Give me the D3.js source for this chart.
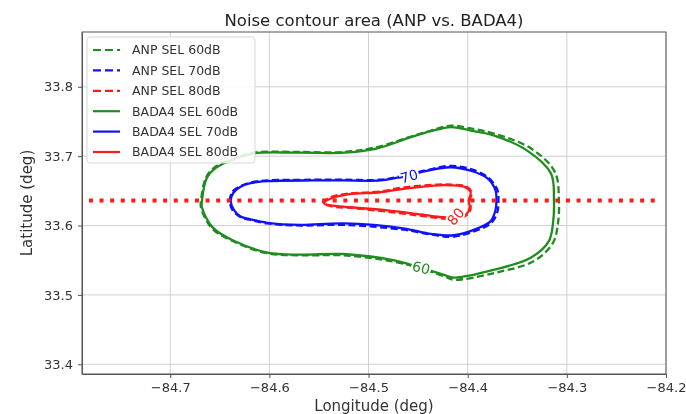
<!DOCTYPE html>
<html>
<head>
<meta charset="utf-8">
<script src="https://cdn.jsdelivr.net/npm/d3@7"></script>
<style>
  html, body { margin: 0; padding: 0; background: #fff; }
  svg { display: block; font-family: "DejaVu Sans", sans-serif; filter: blur(0.35px); }
  .grid line { stroke: #d0d0d0; stroke-width: 1; }
  .axis path, .axis line { stroke: #555; }
</style>
</head>
<body>
<svg id="vis" width="686" height="414"></svg>
<script>
// axis ticks
var xTicks = [-84.7, -84.6, -84.5, -84.4, -84.3, -84.2];
var yTicks = [33.4, 33.5, 33.6, 33.7, 33.8];

// legend entries
var legendLabels = ["ANP SEL 60dB", "ANP SEL 70dB", "ANP SEL 80dB",
                    "BADA4 SEL 60dB", "BADA4 SEL 70dB", "BADA4 SEL 80dB"];

// flight track (lon, lat)
var trackLon = [-84.782, -84.209];
var trackLat = [33.636, 33.636];

// contours, [lon, lat]
var anp60 = [[-84.669,33.636],[-84.664,33.669],[-84.656,33.683],[-84.642,33.693],[-84.616,33.705],
  [-84.569,33.706],[-84.525,33.706],[-84.492,33.713],[-84.458,33.728],[-84.437,33.737],[-84.417,33.744],
  [-84.397,33.740],[-84.372,33.732],[-84.336,33.711],[-84.312,33.677],[-84.308,33.636],[-84.309,33.603],
  [-84.314,33.575],[-84.333,33.549],[-84.372,33.532],[-84.414,33.522],[-84.424,33.527],[-84.447,33.538],
  [-84.475,33.548],[-84.525,33.557],[-84.569,33.557],[-84.602,33.560],[-84.636,33.577],[-84.658,33.596],
  [-84.669,33.626]];
var anp70 = [[-84.640,33.636],[-84.637,33.649],[-84.629,33.657],[-84.619,33.662],[-84.602,33.665],
  [-84.556,33.666],[-84.525,33.666],[-84.488,33.666],[-84.471,33.670],[-84.444,33.679],[-84.417,33.686],
  [-84.396,33.681],[-84.379,33.669],[-84.370,33.651],[-84.369,33.636],[-84.370,33.620],[-84.376,33.604],
  [-84.389,33.594],[-84.414,33.584],[-84.437,33.587],[-84.465,33.594],[-84.525,33.601],[-84.569,33.600],
  [-84.602,33.603],[-84.619,33.608],[-84.629,33.612],[-84.637,33.622]];
var anp80 = [[-84.546,33.633],[-84.538,33.641],[-84.521,33.646],[-84.488,33.649],[-84.465,33.655],
  [-84.430,33.659],[-84.416,33.659],[-84.401,33.656],[-84.396,33.648],[-84.398,33.636],[-84.397,33.625],
  [-84.400,33.616],[-84.411,33.610],[-84.424,33.610],[-84.447,33.614],[-84.481,33.620],[-84.515,33.625],
  [-84.538,33.628]];
var bada60 = [[-84.668,33.636],[-84.663,33.669],[-84.655,33.682],[-84.642,33.692],[-84.616,33.704],
  [-84.569,33.705],[-84.525,33.705],[-84.492,33.711],[-84.458,33.727],[-84.437,33.736],[-84.417,33.742],
  [-84.397,33.737],[-84.374,33.730],[-84.340,33.708],[-84.316,33.675],[-84.313,33.636],[-84.314,33.603],
  [-84.318,33.578],[-84.336,33.554],[-84.374,33.536],[-84.414,33.525],[-84.424,33.529],[-84.447,33.539],
  [-84.475,33.550],[-84.525,33.559],[-84.569,33.558],[-84.602,33.561],[-84.636,33.578],[-84.657,33.597],
  [-84.668,33.626]];
var bada70 = [[-84.639,33.636],[-84.636,33.648],[-84.629,33.656],[-84.619,33.661],[-84.602,33.664],
  [-84.556,33.665],[-84.525,33.665],[-84.488,33.665],[-84.471,33.669],[-84.458,33.672],[-84.444,33.678],
  [-84.417,33.684],[-84.397,33.679],[-84.380,33.668],[-84.372,33.651],[-84.371,33.636],[-84.372,33.622],
  [-84.377,33.606],[-84.390,33.596],[-84.414,33.586],[-84.437,33.588],[-84.465,33.596],[-84.525,33.603],
  [-84.569,33.601],[-84.602,33.604],[-84.619,33.609],[-84.629,33.613],[-84.636,33.623]];
var bada80 = [[-84.545,33.632],[-84.538,33.639],[-84.521,33.645],[-84.488,33.648],[-84.465,33.653],
  [-84.430,33.658],[-84.417,33.658],[-84.402,33.655],[-84.397,33.648],[-84.399,33.636],[-84.398,33.626],
  [-84.401,33.617],[-84.411,33.612],[-84.424,33.612],[-84.447,33.616],[-84.481,33.622],[-84.515,33.626],
  [-84.538,33.629]];

// contour labels: text, lon, lat, angle
var labelText = ["60", "70", "80"];
var labelLon = [-84.447, -84.459, -84.412];
var labelLat = [33.539, 33.671, 33.613];
var labelAngle = [14, -16, -50];

const GREEN = "#1e8c1e", BLUE = "#1010ff", RED = "#ff1a1a";
const MARGINS = {top: 32, bottom: 40, left: 82, right: 20};
var width = 686, height = 414;

var svg = d3.select("#vis");

var x = d3.scaleLinear().domain([-84.789, -84.2]).range([MARGINS.left, width - MARGINS.right]);
var y = d3.scaleLinear().domain([33.386, 33.879]).range([height - MARGINS.bottom, MARGINS.top]);

// grid
svg.append("g").attr("class", "grid")
  .selectAll("line.gx").data(xTicks).enter().append("line")
  .attr("x1", d => x(d)).attr("x2", d => x(d))
  .attr("y1", MARGINS.top).attr("y2", height - MARGINS.bottom);
svg.select("g.grid")
  .selectAll("line.gy").data(yTicks).enter().append("line")
  .attr("y1", d => y(d)).attr("y2", d => y(d))
  .attr("x1", MARGINS.left).attr("x2", width - MARGINS.right);

var line = d3.line().x(d => x(d[0])).y(d => y(d[1])).curve(d3.curveCatmullRomClosed.alpha(0.5));

var contours = [
  {pts: anp60, color: GREEN, dash: "7,3.5"},
  {pts: anp70, color: BLUE, dash: "7,3.5"},
  {pts: anp80, color: RED, dash: "7,3.5"},
  {pts: bada60, color: GREEN, dash: null},
  {pts: bada70, color: BLUE, dash: null},
  {pts: bada80, color: RED, dash: null}
];

var plot = svg.append("g");
plot.selectAll("path.contour").data(contours).enter().append("path")
  .attr("class", "contour")
  .attr("d", d => line(d.pts))
  .attr("fill", "none")
  .attr("stroke", d => d.color)
  .attr("stroke-width", 2.3)
  .attr("stroke-dasharray", d => d.dash);

// flight track
plot.append("line")
  .attr("x1", x(trackLon[0])).attr("x2", x(trackLon[1]))
  .attr("y1", y(trackLat[0])).attr("y2", y(trackLat[1]))
  .attr("stroke", RED).attr("stroke-width", 4)
  .attr("stroke-dasharray", "4,6.6");

// contour labels (inline, white halo to break lines)
var labelColors = [GREEN, BLUE, RED];
plot.selectAll("text.clabel").data(labelText).enter().append("text")
  .attr("class", "clabel")
  .attr("transform", (d, i) => `translate(${x(labelLon[i])},${y(labelLat[i])}) rotate(${labelAngle[i]})`)
  .attr("text-anchor", "middle").attr("dy", "0.35em")
  .attr("font-size", 14)
  .attr("fill", (d, i) => labelColors[i])
  .attr("stroke", "#fff").attr("stroke-width", 4).attr("paint-order", "stroke")
  .text(d => d);

// axes
var xAxis = svg.append("g").attr("class", "axis")
  .attr("transform", `translate(0,${height - MARGINS.bottom})`)
  .call(d3.axisBottom(x).tickValues(xTicks).tickSize(4).tickPadding(5)
    .tickFormat(d => d3.format(".1f")(d).replace("-", "\u2212")).tickSizeOuter(0));
var yAxis = svg.append("g").attr("class", "axis")
  .attr("transform", `translate(${MARGINS.left},0)`)
  .call(d3.axisLeft(y).tickValues(yTicks).tickSize(4).tickPadding(5)
    .tickFormat(d3.format(".1f")).tickSizeOuter(0));
[xAxis, yAxis].forEach(function (a) {
  a.attr("font-size", 13).attr("font-family", "DejaVu Sans, sans-serif");
  a.selectAll("text").attr("fill", "#333");
});

// frame
svg.append("rect")
  .attr("x", MARGINS.left).attr("y", MARGINS.top)
  .attr("width", width - MARGINS.left - MARGINS.right)
  .attr("height", height - MARGINS.top - MARGINS.bottom)
  .attr("fill", "none").attr("stroke", "#555").attr("stroke-width", 1);

// titles
svg.append("text").attr("x", (MARGINS.left + width - MARGINS.right) / 2).attr("y", 26)
  .attr("text-anchor", "middle").attr("font-size", 16.5).attr("fill", "#222")
  .text("Noise contour area (ANP vs. BADA4)");
svg.append("text").attr("x", (MARGINS.left + width - MARGINS.right) / 2).attr("y", 411)
  .attr("text-anchor", "middle").attr("font-size", 15).attr("fill", "#333")
  .text("Longitude (deg)");
svg.append("text")
  .attr("transform", `translate(32,${(MARGINS.top + height - MARGINS.bottom) / 2}) rotate(-90)`)
  .attr("text-anchor", "middle").attr("font-size", 15).attr("fill", "#333")
  .text("Latitude (deg)");

// legend
var legend = svg.append("g").attr("transform", `translate(${MARGINS.left + 5},${MARGINS.top + 5})`);
legend.append("rect").attr("width", 168).attr("height", 126).attr("rx", 3)
  .attr("fill", "rgba(255,255,255,0.85)").attr("stroke", "#d8d8d8");
var legendColors = [GREEN, BLUE, RED, GREEN, BLUE, RED];
var item = legend.selectAll("g.item").data(legendLabels).enter().append("g")
  .attr("class", "item")
  .attr("transform", (d, i) => `translate(0,${13 + i * 20.4})`);
item.append("line").attr("x1", 6).attr("x2", 33)
  .attr("stroke", (d, i) => legendColors[i]).attr("stroke-width", 2.2)
  .attr("stroke-dasharray", (d, i) => i < 3 ? "8,4" : null);
item.append("text").attr("x", 45).attr("dy", "0.35em")
  .attr("font-size", 12.5).attr("fill", "#333").text(d => d);
</script>
</body>
</html>
